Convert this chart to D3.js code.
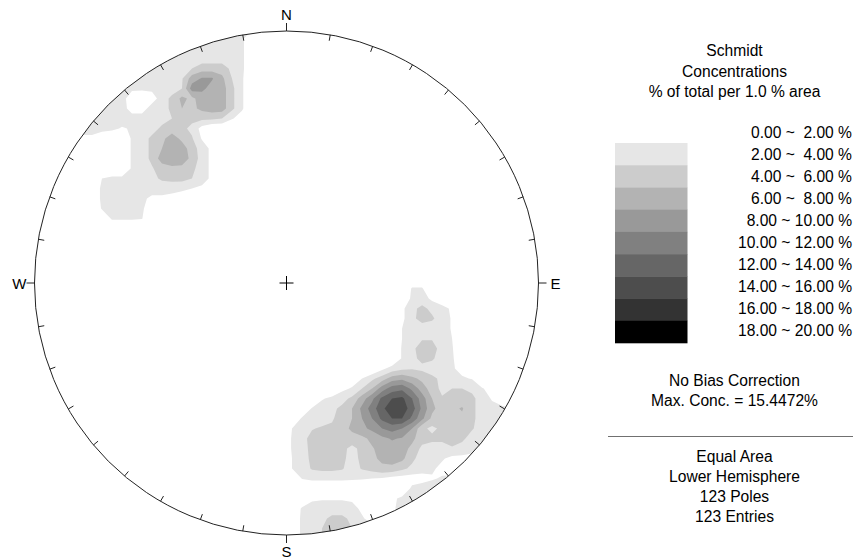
<!DOCTYPE html>
<html><head><meta charset="utf-8">
<script src="https://cdn.jsdelivr.net/npm/d3@7"></script>
<style>
body{margin:0;background:#fff}
svg{display:block}
text{font-family:Arial,"Liberation Sans",sans-serif;fill:#000}
</style>
</head><body>
<svg id="chart" width="853" height="560"></svg>
<script>
// ---------------- data ----------------
// concentration thresholds (% of total per 1% area)
const levelBreaks = [2, 4, 6, 8, 10, 12, 14, 16, 18];
const levelGrays  = ["#e6e6e6","#cccccc","#b3b3b3","#999999","#808080","#666666","#4d4d4d","#333333","#000000"];
const legendLabels = ["0.00 ~  2.00 %","2.00 ~  4.00 %","4.00 ~  6.00 %","6.00 ~  8.00 %","8.00 ~ 10.00 %",
  "10.00 ~ 12.00 %","12.00 ~ 14.00 %","14.00 ~ 16.00 %","16.00 ~ 18.00 %","18.00 ~ 20.00 %"];
const titleLines = ["Schmidt","Concentrations","% of total per 1.0 % area"];
const infoLines1 = ["No Bias Correction","Max. Conc. = 15.4472%"];
const infoLines2 = ["Equal Area","Lower Hemisphere","123 Poles","123 Entries"];
const cardinals = [{az:0,label:"N"},{az:90,label:"E"},{az:180,label:"S"},{az:270,label:"W"}];
const tickAzimuths = d3.range(0, 360, 10);

// density grid (normalized equal-area coordinates, -1..1 = primitive circle)
const gridOrigin = -1.05, gridStep = 0.0397, gridSize = 54;
// rows: [row j, first column i, concentration values...]
const densityNW = [
  [1, 17, [3,3,3,3,3,3,2.5]],
  [2, 15, [3,3,3,3,3,3,3,2.5]],
  [3, 14, [3,3,3,3,3,3,3,3,2.5]],
  [4, 12, [3,3,3,3,3,3,3,3,3,3,2.5]],
  [5, 10, [3,3,3,3,3,3,3,4,5,5,5,3.5,2.5]],
  [6, 9,  [3,3,3,3,3,3,3,3.8,7,8.2,8.2,6.5,4,2.3]],
  [7, 8,  [3,3,3,2.5,2.5,2.5,3,3,4,9,8.5,7.2,7,4.5,2.3]],
  [8, 7,  [3,3,3,3,0.5,0,1,3,4.5,6.5,5.5,7,7.5,7,4.5,2.3]],
  [9, 6,  [3,3,3,3,3,1,1,3,3,4.5,6,5.5,6.5,7,7,4.5,2.3]],
  [10, 6, [3,3,3,3,3,3,3,3,3,4,4.5,4.5,4.5,4.5,4,2.2,1]],
  [11, 5, [3,3,3,3,2.5,1.8,2.2,3,3,4.5,5,4.5,3.5,1.2]],
  [12, 4, [1.5,1.5,1.5,1.5,0,0,0,2.3,3,4.5,5.5,7,5.5,4.2,1.8]],
  [13, 11, [2.3,3,4.5,6,7,7,5,3,1.5]],
  [14, 11, [2.3,3,4.5,7,7.5,7,5.5,3,1.5]],
  [15, 11, [2.3,3,3.8,5,5.5,5.5,4.5,3,1.5]],
  [16, 8, [2,2.5,2.5,3,3,3.5,4.3,4.5,4.5,4,3,1.5]],
  [17, 8, [2.5,3,3,3,3,3,3,3,2.8,2,1.5]],
  [18, 8, [2.5,3,3,3,2.5,1.5,1.5,1]],
  [19, 8, [2.2,3,3,3,2.5]],
  [20, 9, [2.3,2.3,2.3,2.1]]
];
const densitySE = [
  [27, 39, [2.2,2.2]],
  [28, 39, [2.5,3,1.5]],
  [29, 38, [1.5,3.5,4.5,3.5,3,1.5]],
  [30, 38, [1.5,3.5,4.8,4.3,3,1.8]],
  [31, 38, [2,3,3,3,3,1.8]],
  [32, 38, [2,3,3.8,3.8,3,2]],
  [33, 38, [2.2,3.5,5,5,3,2.2]],
  [34, 38, [2.2,3.5,4.5,4.3,3,2.2,1]],
  [35, 36, [1.5,2.8,3.5,3.8,3.5,3,3,2.2,1.5]],
  [36, 33, [1,2,3.5,5,7,7.5,6.5,5.5,4.5,3.5,3,2.2,1.9]],
  [37, 32, [1.5,2.2,4,6,9,11,11.5,9.5,7,5,3.5,4,4,3.5,2.2,1]],
  [38, 30, [1.8,2.5,3.2,4.5,7,9.5,12.5,14,14.5,12,9,6,4.2,5,5,4.5,3,1.8,1]],
  [39, 29, [2.2,3,3.5,4.5,6,8.5,11,13.5,15.4472,15.2,13,9.5,6.5,5,5.5,6.2,4.5,3,2.6,2.4,2.2]],
  [40, 28, [2.3,3,3.3,3.8,4.8,6,8,10,12.5,14,14,11.5,8.5,5.5,5,5,5.5,4.5,3,3,3,3]],
  [41, 27, [2,3,3.9,4.2,4.3,5,6.5,7.5,8.5,10,10.8,10,8,4.5,3.5,4.5,4.5,4.5,4.2,3,3,3]],
  [42, 27, [2.2,3.5,4.5,5,5.5,5,5,5.5,6.5,7.5,8.2,7.8,6.5,4.8,4.5,4.5,6,4.5,3,3,3,3]],
  [43, 27, [2.2,3.3,4.5,5,5,4.5,3.5,4.5,5.8,6.8,7.2,6.8,5.5,3.5,3,3,3.5,3,2.5,2.5,2.5]],
  [44, 27, [2,3,4.5,5,5,4.5,3.2,4.5,5.5,6.5,6.8,6.5,4.5,3,2.8,2.2,1.5,1.5,1.5,1]],
  [45, 27, [2,3,4.2,4.5,4.5,4.2,3,4.2,4.8,5.5,5.5,4.5,3.5,2.8,2.3,1.5]],
  [46, 28, [2.1,2.5,2.5,2.5,2.5,2.3,2.2,2,1.8,1.2,1,1,1.2,1.8,2.2,3]],
  [47, 39, [2.5,3,3,3,3]],
  [48, 29, [1.6,1.8,1.8,1.8,1.6,0,0,0,1.5,2.5,3,3,3]],
  [49, 28, [2.3,3,3,3,3,2.8,1.5,0,0,1.5,3,3]]
];
const densityS = [
  [50, 28, [2.5,3,3.5,4.5,4.5,3.5,2.3,1]],
  [51, 28, [2.5,3,4,5,5,4,3,3]],
  [52, 28, [2.5,3,4,5,5,4,3]]
];

// ---------------- layout ----------------
const cx = 286.5, cy = 283, R = 252;
const svg = d3.select("#chart");
const xs = d3.scaleLinear().domain([-1, 1]).range([cx - R, cx + R]);
const ys = d3.scaleLinear().domain([-1, 1]).range([cy - R, cy + R]);

// grid values
const values = new Array(gridSize * gridSize).fill(0);
[...densityNW, ...densitySE, ...densityS].forEach(([j, i0, vals]) => {
  vals.forEach((v, k) => { values[j * gridSize + i0 + k] = v; });
});
const contours = d3.contours().size([gridSize, gridSize]).thresholds(levelBreaks)(values);
const proj = d3.geoTransform({
  point(x, y) {
    this.stream.point(xs(gridOrigin + gridStep * (x - 0.5)), ys(gridOrigin + gridStep * (y - 0.5)));
  }
});
const path = d3.geoPath(proj);

svg.append("defs").append("clipPath").attr("id", "net")
  .append("circle").attr("cx", cx).attr("cy", cy).attr("r", R);

const color = d3.scaleThreshold().domain(levelBreaks.slice(1)).range(levelGrays);
svg.append("g").attr("clip-path", "url(#net)")
  .selectAll("path").data(contours.filter(c => c.coordinates.length))
  .join("path")
  .attr("d", path)
  .attr("fill", d => color(d.value))
  .attr("stroke", "none");

// primitive circle
svg.append("circle").attr("cx", cx).attr("cy", cy).attr("r", R)
  .attr("fill", "none").attr("stroke", "#222").attr("stroke-width", 1);

// ticks
const rad = a => a * Math.PI / 180;
svg.append("g").selectAll("line").data(tickAzimuths).join("line")
  .each(function(a) {
    const card = a % 90 === 0;
    const r1 = R, r2 = card ? R + 8 : R - 6;
    const s = Math.sin(rad(a)), c = Math.cos(rad(a));
    d3.select(this).attr("x1", cx + r1 * s).attr("y1", cy - r1 * c)
      .attr("x2", cx + r2 * s).attr("y2", cy - r2 * c);
  })
  .attr("stroke", "#222").attr("stroke-width", 1);

// cardinal labels
const labelPos = {N: [cx, cy - R - 11, "middle"], S: [cx, cy + R + 22, "middle"],
                  E: [cx + R + 12, cy + 5.5, "start"], W: [cx - R - 8, cy + 5.5, "end"]};
svg.append("g").selectAll("text").data(cardinals).join("text")
  .attr("x", d => labelPos[d.label][0]).attr("y", d => labelPos[d.label][1])
  .attr("text-anchor", d => labelPos[d.label][2])
  .style("font-size", "15px")
  .text(d => d.label);

// center cross
svg.append("path").attr("d", `M${cx-7},${cy}H${cx+7}M${cx},${cy-7}V${cy+7}`)
  .attr("stroke", "#000").attr("stroke-width", 1);

// ---------------- legend ----------------
const lg = svg.append("g");
const lx = 734.5;
lg.selectAll("text.title").data(titleLines).join("text").attr("class", "title")
  .attr("x", lx).attr("y", (d, i) => 56 + i * 20.5).attr("text-anchor", "middle")
  .style("font-size", "15.6px").text(d => d);

lg.selectAll("text.range").data(legendLabels).join("text").attr("class", "range")
  .attr("x", 852).attr("y", (d, i) => 137.5 + i * 22.05).attr("text-anchor", "end")
  .style("font-size", "15.6px").style("white-space", "pre").attr("xml:space", "preserve")
  .text(d => d);

const sw = d3.scaleBand().domain(d3.range(levelGrays.length)).range([143, 343]).padding(0);
lg.selectAll("rect").data(levelGrays).join("rect")
  .attr("x", 615).attr("width", 72.5)
  .attr("y", (d, i) => sw(i)).attr("height", sw.bandwidth() + 0.3)
  .attr("fill", d => d);

lg.selectAll("text.info1").data(infoLines1).join("text").attr("class", "info1")
  .attr("x", lx).attr("y", (d, i) => 386 + i * 20).attr("text-anchor", "middle")
  .style("font-size", "15.6px").text(d => d);

lg.append("line").attr("x1", 608).attr("x2", 853).attr("y1", 436.5).attr("y2", 436.5)
  .attr("stroke", "#707070").attr("stroke-width", 1.2);

lg.selectAll("text.info2").data(infoLines2).join("text").attr("class", "info2")
  .attr("x", lx).attr("y", (d, i) => 461.5 + i * 20).attr("text-anchor", "middle")
  .style("font-size", "15.6px").text(d => d);
</script>
</body></html>
